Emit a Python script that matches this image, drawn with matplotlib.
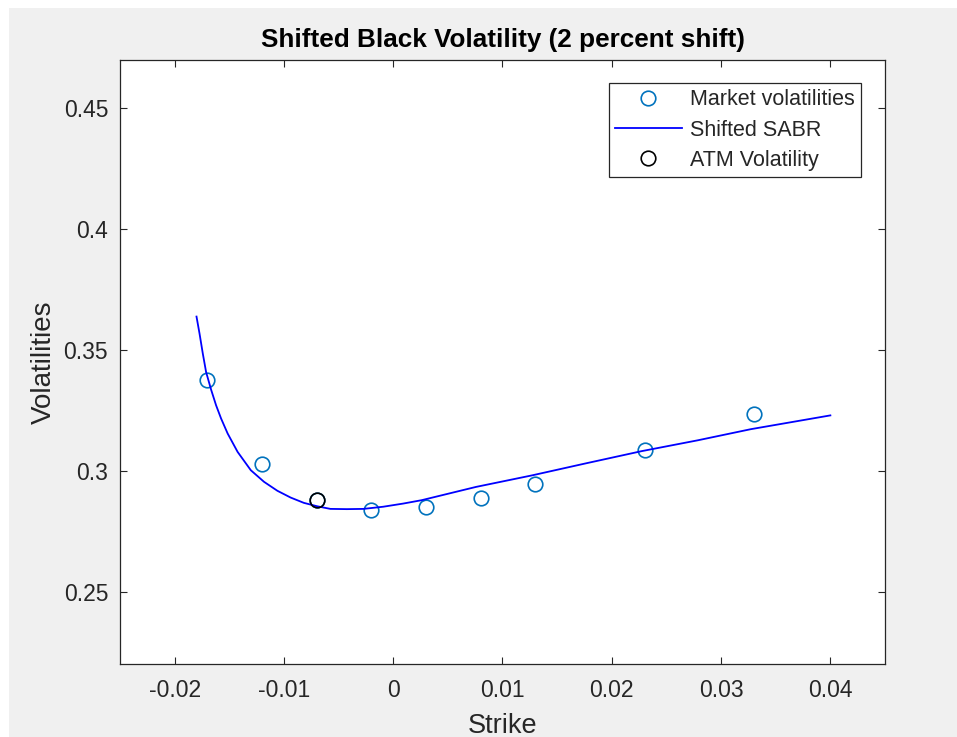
import numpy as np
import matplotlib
matplotlib.use('Agg')
import matplotlib.pyplot as plt
from matplotlib.patches import Rectangle

plt.rcParams['font.family'] = ['Liberation Sans', 'DejaVu Sans']

# quoted strikes and market vols
strikes = [-0.017, -0.012, -0.007, -0.002, 0.003, 0.008, 0.013, 0.023, 0.033]
market_vols = [0.3376, 0.3027, 0.2878, 0.2837, 0.2848, 0.2888, 0.2944, 0.3085, 0.3236]

# fitted shifted SABR smile
sabr_strikes = [-0.0180, -0.01772, -0.01742, -0.01712, -0.01666, -0.01621, -0.01575,
                -0.01515, -0.01424, -0.01303, -0.01182, -0.01060, -0.00939, -0.00818,
                -0.00697, -0.00575, -0.00424, -0.00272, -0.00091, 0.00091, 0.00260,
                0.00758, 0.01273, 0.01758, 0.02273, 0.02788, 0.03273, 0.0400]
sabr_vols = [0.3638, 0.3567, 0.3484, 0.3408, 0.3335, 0.3271, 0.3216,
             0.3154, 0.3078, 0.3002, 0.2954, 0.2917, 0.2889, 0.2867,
             0.2853, 0.2842, 0.2841, 0.2842, 0.2851, 0.2864, 0.2878,
             0.2933, 0.2981, 0.3030, 0.3081, 0.3126, 0.3172, 0.3229]

atm_strike = -0.007
atm_vol = 0.2878

axcol = '#262626'

fig = plt.figure(figsize=(9.57, 7.37), dpi=100)
fig.patch.set_facecolor('white')
fig.patches.append(Rectangle((9 / 957, 0), 1, 1 - 8 / 737, transform=fig.transFigure,
                             facecolor='#f0f0f0', edgecolor='none', zorder=-10))

ax = fig.add_axes([120 / 957, 1 - 664 / 737, 765 / 957, 604 / 737])
ax.set_facecolor('white')

ax.plot(strikes, market_vols, 'o', mfc='none', mec='#0072bd', ms=10.5, mew=1.2,
        label='Market volatilities')
ax.plot(sabr_strikes, sabr_vols, '-', color='blue', lw=1.3, label='Shifted SABR')
ax.plot([atm_strike], [atm_vol], 'o', mfc='none', mec='black', ms=10.5, mew=1.2,
        label='ATM Volatility')

ax.set_xlim(-0.025, 0.045)
ax.set_ylim(0.22, 0.47)
ax.set_xticks([-0.02, -0.01, 0, 0.01, 0.02, 0.03, 0.04])
ax.set_xticklabels(['-0.02', '-0.01', '0', '0.01', '0.02', '0.03', '0.04'])
ax.set_yticks([0.25, 0.3, 0.35, 0.4, 0.45])
ax.set_yticklabels(['0.25', '0.3', '0.35', '0.4', '0.45'])

ax.tick_params(direction='in', top=True, right=True, length=5, width=0.8,
               colors=axcol, labelsize=16.5)
ax.tick_params(axis='x', pad=10.5)
ax.tick_params(axis='y', pad=8.5)
for s in ax.spines.values():
    s.set_color(axcol)
    s.set_linewidth(0.9)

ax.set_xlabel('Strike', fontsize=19.5, color=axcol, labelpad=8)
ax.set_ylabel('Volatilities', fontsize=20, color=axcol, labelpad=5)
ax.set_title('Shifted Black Volatility (2 percent shift)', fontsize=18.8, fontweight='bold',
             color='black', pad=9)

leg = ax.legend(loc='upper right', bbox_to_anchor=(861 / 957, 1 - 83 / 737),
                bbox_transform=fig.transFigure, borderaxespad=0, fancybox=False,
                framealpha=1, edgecolor=axcol, fontsize=15.5, handlelength=3.1,
                handletextpad=0.37, labelspacing=0.42, borderpad=0.3)
leg.get_frame().set_linewidth(0.9)
for t in leg.get_texts():
    t.set_color(axcol)

fig.savefig('out.png', dpi=100, facecolor=fig.get_facecolor())
